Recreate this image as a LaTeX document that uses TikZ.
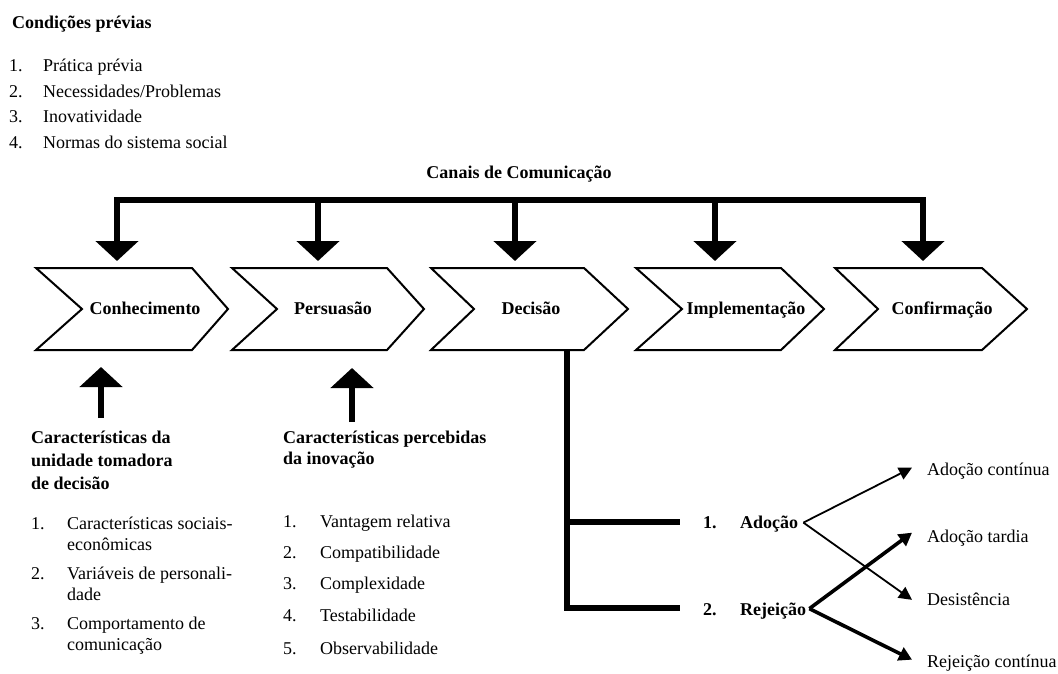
\documentclass[tikz,border=0pt]{standalone}
\usepackage{fontspec}
\setmainfont{Liberation Serif}
\usetikzlibrary{arrows.meta}
\begin{document}
\begin{tikzpicture}[x=1pt,y=-1pt,
  txt/.style={inner sep=0pt, anchor=base west, font=\fontsize{18}{22}\selectfont},
  btxt/.style={txt, font=\fontsize{18}{22}\selectfont\bfseries},
  clabel/.style={btxt, anchor=base},
  chev/.style={draw, line width=2pt, line join=miter},
  bus/.style={line width=5.5pt},
  bigtip/.style={-{Triangle[width=42pt,length=20pt]}},
  thinarr/.style={line width=1.8pt, -{Triangle[width=13pt,length=13pt]}},
  thickarr/.style={line width=3.6pt, -{Triangle[width=14pt,length=13pt]}},
]
\useasboundingbox (0,0) rectangle (1058,673);

% --- Condicoes previas
\node[btxt] (cp) at (12,28) {Condições prévias};
\node[txt] (cn1) at (9,71) {1.};  \node[txt] (cp1) at (43,71) {Prática prévia};
\node[txt] (cn2) at (9,97) {2.};  \node[txt] (cp2) at (43,97) {Necessidades/Problemas};
\node[txt] (cn3) at (9,122) {3.}; \node[txt] (cp3) at (43,122) {Inovatividade};
\node[txt] (cn4) at (9,148) {4.}; \node[txt] (cp4) at (43,148) {Normas do sistema social};

% --- Canais de Comunicacao
\node[clabel] (canais) at (519,178) {Canais de Comunicação};

% --- chevrons
\draw[chev] (36,268) -- (192,268) -- (228,309) -- (192,350) -- (36,350) -- (82,309) -- cycle;
\draw[chev] (232,268) -- (387,268) -- (424,309) -- (387,350) -- (232,350) -- (277,309) -- cycle;
\draw[chev] (431,268) -- (584,268) -- (628,309) -- (584,350) -- (431,350) -- (474,309) -- cycle;
\draw[chev] (636,268) -- (781,268) -- (824,309) -- (781,350) -- (636,350) -- (682,309) -- cycle;
\draw[chev] (835,268) -- (982,268) -- (1027,309) -- (982,350) -- (835,350) -- (878,309) -- cycle;
\node[clabel] (k1) at (145,314) {Conhecimento};
\node[clabel] (k2) at (333,314) {Persuasão};
\node[clabel] (k3) at (531,314) {Decisão};
\node[clabel] (k4) at (746,314) {Implementação};
\node[clabel] (k5) at (942,314) {Confirmação};

% --- communication bus
\coordinate (b1) at (117,200); \coordinate (t1) at (117,261);
\coordinate (b2) at (318,200); \coordinate (t2) at (318,261);
\coordinate (b3) at (515,200); \coordinate (t3) at (515,261);
\coordinate (b4) at (715,200); \coordinate (t4) at (715,261);
\coordinate (b5) at (923,200); \coordinate (t5) at (923,261);
\draw[bus, line join=miter, {Triangle[width=42pt,length=20pt]}-{Triangle[width=42pt,length=20pt]}] (t1) -- (b1) -- (b5) -- (t5);
\draw[bus, bigtip] (b2) -- (t2);
\draw[bus, bigtip] (b3) -- (t3);
\draw[bus, bigtip] (b4) -- (t4);

% --- upward arrows
\coordinate (u1s) at (101,418); \coordinate (u1e) at (101,367);
\coordinate (u2s) at (352,422); \coordinate (u2e) at (352,368);
\draw[bus, bigtip] (u1s) -- (u1e);
\draw[bus, bigtip] (u2s) -- (u2e);

% --- Caracteristicas da unidade tomadora de decisao
\node[btxt] (h1a) at (31,443) {Características da};
\node[btxt] (h1b) at (31,466) {unidade tomadora};
\node[btxt] (h1c) at (31,489) {de decisão};
\node[txt] (an1) at (31,529) {1.}; \node[txt] (a1a) at (67,529) {Características sociais-};
\node[txt] (a1b) at (67,550) {econômicas};
\node[txt] (an2) at (31,579) {2.}; \node[txt] (a2a) at (67,579) {Variáveis de personali-};
\node[txt] (a2b) at (67,600) {dade};
\node[txt] (an3) at (31,629) {3.}; \node[txt] (a3a) at (67,629) {Comportamento de};
\node[txt] (a3b) at (67,650) {comunicação};

% --- Caracteristicas percebidas da inovacao
\node[btxt] (h2a) at (283,443) {Características percebidas};
\node[btxt] (h2b) at (283,464) {da inovação};
\node[txt] (bn1) at (283,527) {1.}; \node[txt] (b1t) at (320,527) {Vantagem relativa};
\node[txt] (bn2) at (283,558) {2.}; \node[txt] (b2t) at (320,558) {Compatibilidade};
\node[txt] (bn3) at (283,589) {3.}; \node[txt] (b3t) at (320,589) {Complexidade};
\node[txt] (bn4) at (283,621) {4.}; \node[txt] (b4t) at (320,621) {Testabilidade};
\node[txt] (bn5) at (283,654) {5.}; \node[txt] (b5t) at (320,654) {Observabilidade};

% --- decision branches
\coordinate (d0) at (567,350); \coordinate (d1) at (567,522); \coordinate (d2) at (567,608);
\coordinate (e1) at (680,522); \coordinate (e2) at (680,608);
\draw[bus, line join=miter] (d0) -- (d2) -- (e2);
\draw[bus] (d1) -- (e1);

\node[btxt] (rn1) at (703,528) {1.}; \node[btxt] (ad) at (740,528) {Adoção};
\node[btxt] (rn2) at (703,615) {2.}; \node[btxt] (rj) at (740,615) {Rejeição};

\node[txt] (ac) at (927,475) {Adoção contínua};
\node[txt] (at) at (927,542) {Adoção tardia};
\node[txt] (de) at (927,605) {Desistência};
\node[txt] (rc) at (927,667) {Rejeição contínua};

\draw[thinarr] ([xshift=5pt,yshift=1pt]ad.east) -- ([xshift=-15pt,yshift=3pt]ac.west);
\draw[thinarr] ([xshift=5pt,yshift=1pt]ad.east) -- ([xshift=-15pt,yshift=-1pt]de.west);
\draw[thickarr] ([xshift=3pt,yshift=2pt]rj.east) -- ([xshift=-15pt,yshift=5pt]at.west);
\draw[thickarr] ([xshift=3pt,yshift=2pt]rj.east) -- ([xshift=-15pt,yshift=3pt]rc.west);
\end{tikzpicture}
\end{document}
